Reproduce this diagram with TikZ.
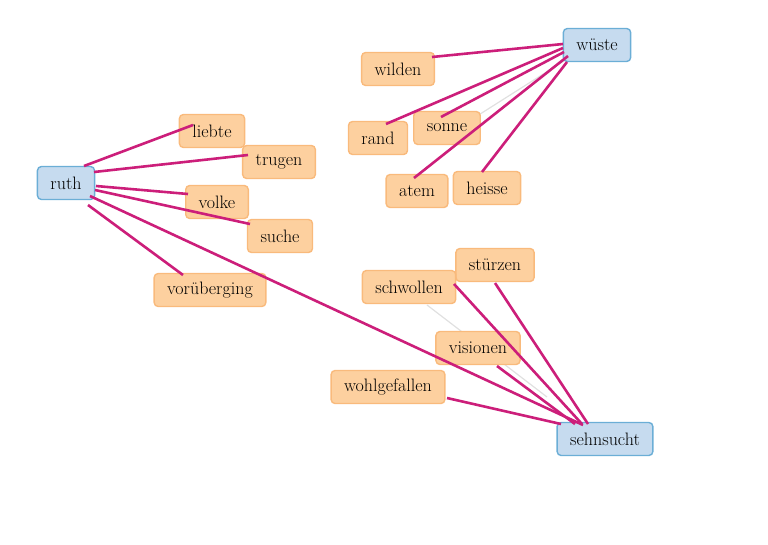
\documentclass[tikz,border=0pt]{standalone}
\usepackage{fontspec}
\usetikzlibrary{calc,backgrounds}
\definecolor{hubfill}{HTML}{C6DBEF}
\definecolor{hubline}{HTML}{6BAED6}
\definecolor{wordfill}{HTML}{FDD09F}
\definecolor{wordline}{HTML}{F9BA7C}
\definecolor{linkcol}{HTML}{CC1E7A}
\tikzset{
  hub/.style={draw=hubline, fill=hubfill, line width=1.4pt, rounded corners=4pt,
    minimum height=33pt, inner xsep=13pt, font=\fontsize{18}{20}\selectfont},
  word/.style={draw=wordline, fill=wordfill, line width=1.4pt, rounded corners=4pt,
    minimum height=33pt, inner xsep=13pt, font=\fontsize{18}{20}\selectfont},
  link/.style={draw=linkcol, line width=2.6pt},
  faint/.style={draw=black!12, line width=1.2pt}
}
\begin{document}
\begin{tikzpicture}[x=1pt, y=-1pt]
\useasboundingbox (0,0) rectangle (768,544);
% hubs
\node[hub] (ruth) at (66,183) {ruth};
\node[hub] (wueste) at (597,45) {wüste};
\node[hub] (sehnsucht) at (605,439) {sehnsucht};
% words round wueste
\node[word] (wilden) at (398,69) {wilden};
\node[word] (rand) at (378,138) {rand};
\node[word] (sonne) at (447,128) {sonne};
\node[word] (atem) at (417,191) {atem};
\node[word] (heisse) at (487,188) {heisse};
% words round ruth
\node[word] (liebte) at (212,131) {liebte};
\node[word] (trugen) at (279,162) {trugen};
\node[word] (volke) at (217,202) {volke};
\node[word] (suche) at (280,236) {suche};
\node[word] (vorueberging) at (210,290) {vorüberging};
% words round sehnsucht
\node[word] (stuerzen) at (495,265) {stürzen};
\node[word] (schwollen) at (409,287) {schwollen};
\node[word] (visionen) at (478,348) {visionen};
\node[word] (wohlgefallen) at (388,387) {wohlgefallen};
% faint links, behind the boxes
\begin{pgfonlayer}{background}
\draw[faint] ($(schwollen)+(18,18)$) -- ($(sehnsucht)+(-58,-42)$);
\draw[faint] ($(sonne)+(30,-12)$) -- ($(wueste)+(-30,14)$);
\end{pgfonlayer}
% links
\draw[link] ($(ruth)+(18,-17)$) -- ($(liebte)+(-19,-6)$);
\draw[link] ($(ruth)+(28,-11)$) -- ($(trugen)+(-31,-7)$);
\draw[link] ($(ruth)+(30,3)$) -- ($(volke)+(-29,-8)$);
\draw[link] ($(ruth)+(29,7)$) -- ($(suche)+(-30,-12)$);
\draw[link] ($(ruth)+(22,22)$) -- ($(vorueberging)+(-27,-15)$);
\draw[link] ($(ruth)+(24,13)$) -- ($(sehnsucht)+(-22,-14)$);
\draw[link] ($(wueste)+(-34,-1)$) -- ($(wilden)+(34,-12)$);
\draw[link] ($(wueste)+(-34,3)$) -- ($(rand)+(8,-14)$);
\draw[link] ($(wueste)+(-33,7)$) -- ($(sonne)+(-6,-11)$);
\draw[link] ($(wueste)+(-29,11)$) -- ($(atem)+(-3,-13)$);
\draw[link] ($(wueste)+(-30,17)$) -- ($(heisse)+(-5,-16)$);
\draw[link] ($(sehnsucht)+(-44,-15)$) -- ($(wohlgefallen)+(59,11)$);
\draw[link] ($(sehnsucht)+(-30,-15)$) -- ($(visionen)+(19,18)$);
\draw[link] ($(sehnsucht)+(-23,-15)$) -- ($(schwollen)+(45,-3)$);
\draw[link] ($(sehnsucht)+(-17,-15)$) -- ($(stuerzen)+(0,18)$);
\end{tikzpicture}
\end{document}
